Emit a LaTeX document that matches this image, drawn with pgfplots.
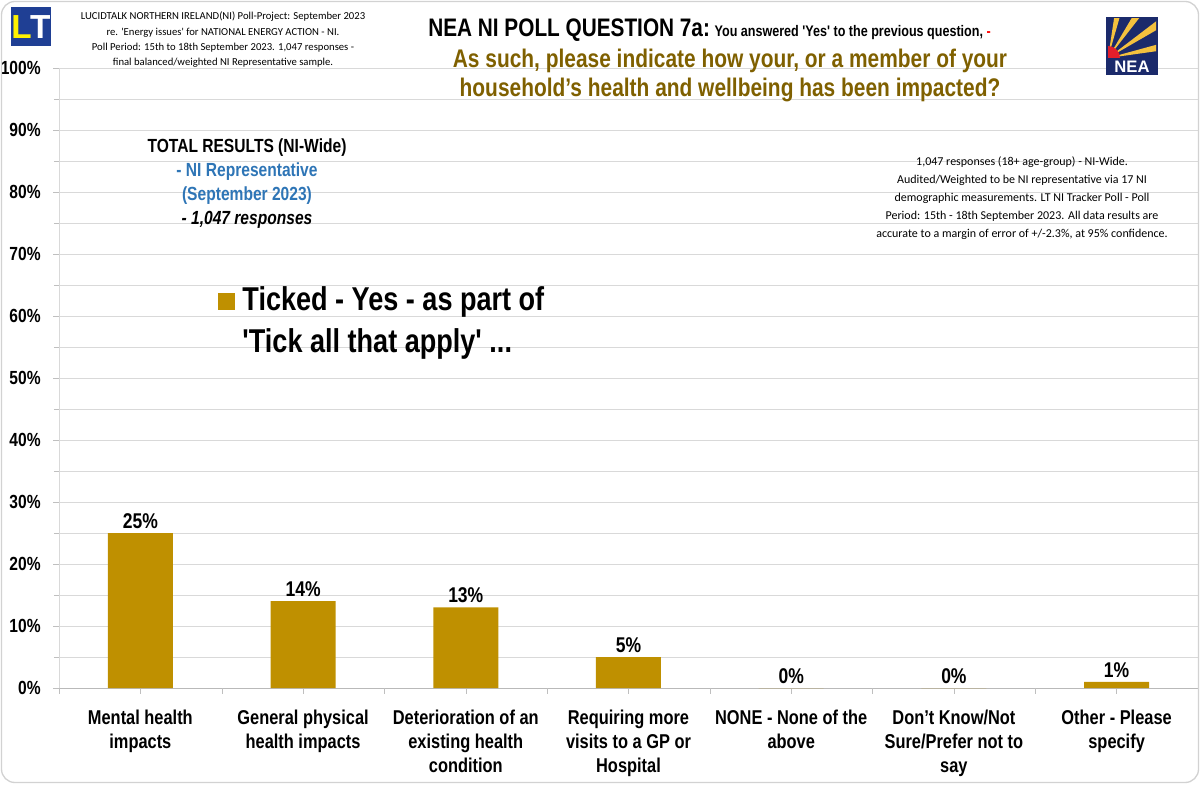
\documentclass[border=0pt]{standalone}
\usepackage{fontspec}
\usepackage{pgfplots}
\pgfplotsset{compat=1.18}
\setmainfont{Liberation Sans}
\newfontfamily\narrow[FakeStretch=0.82]{Liberation Sans}
\newfontfamily\calib{Carlito}
\definecolor{gold}{HTML}{BF9000}
\definecolor{olive}{HTML}{7F6000}
\definecolor{nblue}{HTML}{2E75B6}
\definecolor{gridc}{HTML}{D9D9D9}
\definecolor{ltnavy}{HTML}{1F3F94}
\definecolor{neanavy}{HTML}{1B2A6B}
\definecolor{neayel}{HTML}{F4C13E}
\definecolor{neared}{HTML}{E41E2B}
\begin{document}
\begin{tikzpicture}[x=0.6pt,y=0.6pt]
\useasboundingbox (0,0) rectangle (1200,784);
\begin{axis}[
  at={(35.4pt,57.6pt)}, anchor=south west,
  scale only axis, width=683.4pt, height=372pt,
  xmin=-0.5, xmax=6.5, ymin=0, ymax=100,
  /pgf/number format/assume math mode=true,
  axis x line*=bottom, axis y line*=left,
  x axis line style={-, draw=gray!55},
  y axis line style={-, draw=gray!30},
  ybar, bar width=39pt,
  xtick={0,...,6},
  xticklabels={{Mental health\\impacts},{General physical\\health impacts},{Deterioration of an\\existing health\\condition},{Requiring more\\visits to a GP or\\Hospital},{NONE - None of the\\above},{Don’t Know/Not\\Sure/Prefer not to\\say},{Other - Please\\specify}},
  xticklabel style={align=center, font=\narrow\bfseries\fontsize{12}{14.4}\selectfont, yshift=-6pt, anchor=north},
  extra x ticks={-0.5,0.5,...,6.5}, extra x tick labels={},
  extra x tick style={grid=none},
  tick align=outside, major tick length=3.5pt, minor tick length=3pt,
  tick style={draw=gray!50},
  ytick={0,10,...,100},
  minor y tick num=1,
  yticklabel={\pgfmathprintnumber{\tick}\%},
  yticklabel style={font=\narrow\bfseries\fontsize{11.4}{13}\selectfont, xshift=-4pt},
  ymajorgrids, yminorgrids,
  major grid style={draw=gridc, line width=0.6pt},
  minor grid style={draw=gridc, line width=0.6pt},
  nodes near coords={\pgfmathprintnumber{\pgfplotspointmeta}\%},
  every node near coord/.append style={font=\narrow\bfseries\fontsize{12.8}{14}\selectfont, black, inner sep=2.5pt},
  legend style={at={(0.1352,0.658)}, anchor=north west, draw=none, fill=none,
    font=\narrow\bfseries\fontsize{19.8}{25}\selectfont, cells={align=left}, column sep=2.5pt},
  legend image code/.code={\fill[gold] (0pt,6.8pt) rectangle (10pt,16.8pt);},
]
\addplot[fill=gold, draw=none] coordinates {(0,25) (1,14) (2,13) (3,5) (4,0) (5,0) (6,1)};
\addlegendentry{Ticked - Yes - as part of\\'Tick all that apply' ...}
\end{axis}
% frame
\draw[gray!35, line width=0.8pt, rounded corners=8pt] (1.5,1.5) rectangle (1198.5,782.5);
% LT logo
\fill[ltnavy] (11,784-7) rectangle (51,784-46);
\node[font=\bfseries\fontsize{20}{20}\selectfont, inner sep=0pt] at (31,784-27) {\textcolor{yellow}{L}\kern-1pt\textcolor{white}{T}};
% header left
\node[font=\calib\fontsize{6.4}{9.2}\selectfont, align=center] at (223,784-40) {LUCIDTALK NORTHERN IRELAND(NI) Poll-Project: September 2023\\re. 'Energy issues' for NATIONAL ENERGY ACTION - NI.\\Poll Period: 15th to 18th September 2023. 1,047 responses -\\final balanced/weighted NI Representative sample.};
% title
\node[anchor=base west, inner sep=0pt, font=\narrow\bfseries] at (428,784-37) {\fontsize{15.2}{18}\selectfont NEA NI POLL QUESTION 7a:\fontsize{9.2}{11}\selectfont{} You answered 'Yes' to the previous question, \textcolor{red}{-}};
\node[anchor=base, inner sep=0pt, font=\narrow\bfseries\fontsize{15.3}{17}\selectfont, text=olive] at (730,784-68) {As such, please indicate how your, or a member of your};
\node[anchor=base, inner sep=0pt, font=\narrow\bfseries\fontsize{15.3}{17}\selectfont, text=olive] at (730,784-97) {household’s health and wellbeing has been impacted?};
% NEA logo
\begin{scope}
\fill[neanavy] (1106,784-17) rectangle (1158,784-75);
\clip (1108,784-19) rectangle (1156,784-58);
\foreach \a in {8,30,52,74} {
  \fill[neayel] (1108,784-58) -- ++(\a:70) -- ++(\a+90:9) -- cycle;
}
\fill[neared] (1108,784-58) -- ++(0:12) arc (0:90:12) -- cycle;
\end{scope}
\node[text=white, font=\bfseries\fontsize{10}{10}\selectfont, inner sep=0pt] at (1132,784-67) {NEA};
% left block
\node[align=center, font=\narrow\bfseries\fontsize{11.4}{14.4}\selectfont] at (247,784-184) {TOTAL RESULTS (NI-Wide)\\\textcolor{nblue}{- NI Representative}\\\textcolor{nblue}{(September 2023)}\\\itshape - 1,047 responses};
% right block
\node[align=center, font=\calib\fontsize{7.2}{10.8}\selectfont] at (1022,784-198) {1,047 responses (18+ age-group) - NI-Wide.\\Audited/Weighted to be NI representative via 17 NI\\demographic measurements. LT NI Tracker Poll - Poll\\Period: 15th - 18th September 2023. All data results are\\accurate to a margin of error of +/-2.3\%, at 95\% confidence.};
\end{tikzpicture}
\end{document}
